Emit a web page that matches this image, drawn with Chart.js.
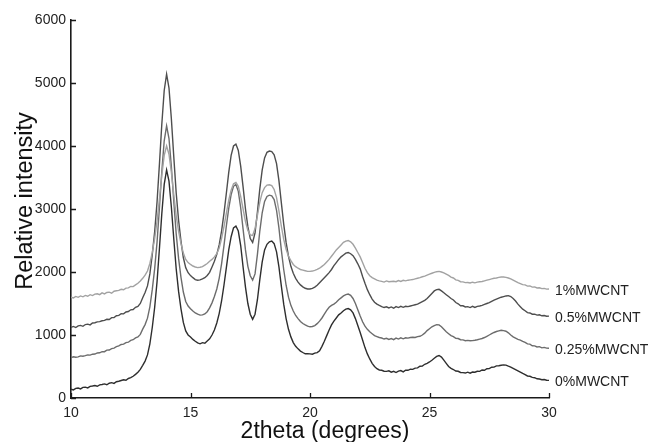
<!DOCTYPE html>
<html>
<head>
<meta charset="utf-8">
<script src="https://cdn.jsdelivr.net/npm/chart.js@4.4.1/dist/chart.umd.min.js"></script>
<style>
  html, body { margin: 0; padding: 0; background: #fff; }
  #wrap { width: 656px; height: 442px; }
</style>
</head>
<body>
<div id="wrap"><canvas id="xrdChart" width="656" height="442"></canvas></div>
<script>
// scan grid 10.0 .. 30.0 deg, 0.1 deg step
const twoTheta = [];
for (let i = 0; i <= 200; i++) twoTheta.push(+(10 + i * 0.1).toFixed(1));

const seriesNames = ['1%MWCNT', '0.5%MWCNT', '0.25%MWCNT', '0%MWCNT'];
const seriesColors = ['#a2a2a2', '#4e4e4e', '#6c6c6c', '#2e2e2e'];
const xTicks = [10, 15, 20, 25, 30];
const yTicks = [0, 1000, 2000, 3000, 4000, 5000, 6000];

const mw1 = [
  1600, 1588, 1612, 1598, 1620, 1606, 1628, 1615, 1640, 1626,
  1648, 1655, 1640, 1668, 1652, 1675, 1680, 1664, 1695, 1702,
  1708, 1726, 1718, 1745, 1748, 1770, 1768, 1795, 1822, 1858,
  1900, 1950, 2015, 2135, 2310, 2530, 2805, 3160, 3535, 3850,
  4000, 3870, 3580, 3230, 2900, 2650, 2455, 2300, 2200, 2150,
  2120, 2095, 2080, 2070, 2075, 2085, 2110, 2135, 2170, 2200,
  2240, 2290, 2380, 2530, 2720, 2930, 3140, 3300, 3400, 3420,
  3360, 3200, 3000, 2800, 2660, 2590, 2580, 2690, 2900, 3110,
  3260, 3340, 3380, 3385, 3370, 3310, 3180, 2970, 2730, 2520,
  2360, 2250, 2180, 2120, 2085, 2060, 2040, 2030, 2020, 2010,
  2010, 2015, 2025, 2040, 2060, 2090, 2120, 2160, 2200, 2250,
  2300, 2350, 2390, 2430, 2470, 2490, 2500, 2480, 2440, 2380,
  2310, 2240, 2150, 2060, 1990, 1940, 1910, 1890, 1870, 1860,
  1852, 1840, 1858, 1846, 1850, 1852, 1846, 1864, 1850, 1868,
  1860, 1870, 1875, 1880, 1890, 1900, 1910, 1925, 1935, 1950,
  1965, 1980, 1995, 2005, 2010, 2000, 1985, 1965, 1945, 1920,
  1905, 1876, 1868, 1846, 1844, 1832, 1834, 1826, 1838, 1828,
  1840, 1845, 1850, 1860, 1870, 1880, 1890, 1900, 1905, 1915,
  1920, 1920, 1915, 1905, 1890, 1870, 1850, 1830, 1815, 1800,
  1795, 1776, 1780, 1760, 1764, 1746, 1750, 1736, 1740, 1728,
  1730
];

const mw05 = [
  1120, 1136, 1118, 1145, 1152, 1138, 1166, 1172, 1160, 1190,
  1194, 1208, 1212, 1226, 1232, 1250, 1246, 1275, 1278, 1305,
  1312, 1338, 1335, 1366, 1372, 1400, 1405, 1440, 1455, 1500,
  1590, 1674, 1779, 1970, 2274, 2636, 3111, 3712, 4348, 4881,
  5140, 4921, 4428, 3832, 3261, 2826, 2494, 2230, 2069, 1989,
  1943, 1910, 1880, 1870, 1875, 1890, 1910, 1945, 1995, 2080,
  2170, 2280, 2430, 2650, 2930, 3250, 3580, 3850, 4000, 4030,
  3930, 3680, 3350, 3000, 2720, 2530, 2470, 2620, 2950, 3320,
  3620, 3810, 3900, 3920, 3910, 3860, 3720, 3450, 3100, 2760,
  2470, 2250, 2090, 1980, 1900, 1840, 1795, 1765, 1742, 1730,
  1730, 1740, 1760, 1790, 1830, 1870, 1910, 1950, 1990, 2040,
  2100, 2150, 2200, 2240, 2270, 2300, 2310, 2290, 2260, 2200,
  2130, 2050, 1930, 1820, 1720, 1640, 1570, 1520, 1490, 1470,
  1452, 1436, 1448, 1430, 1445, 1425, 1450, 1436, 1455, 1440,
  1455, 1450, 1460, 1470, 1480, 1490, 1510, 1530, 1550, 1580,
  1620, 1660, 1700, 1720, 1725, 1700, 1670, 1640, 1610, 1580,
  1555, 1515, 1495, 1465, 1464, 1445, 1450, 1436, 1455, 1438,
  1455, 1460, 1470, 1485, 1500, 1515, 1535, 1555, 1570, 1585,
  1600, 1610, 1620, 1625, 1610, 1580, 1540, 1490, 1450, 1410,
  1385, 1356, 1350, 1330, 1330, 1315, 1320, 1305, 1310, 1298,
  1300
];

const mw025 = [
  640, 655, 648, 652, 668, 664, 672, 684, 680, 695,
  698, 715, 718, 736, 735, 760, 762, 785, 792, 815,
  826, 850, 855, 880, 886, 915, 925, 955, 970, 1010,
  1093, 1165, 1267, 1447, 1720, 2050, 2473, 3020, 3598, 4083,
  4320, 4118, 3668, 3125, 2613, 2220, 1920, 1682, 1532, 1460,
  1418, 1380, 1350, 1330, 1315, 1320, 1335, 1370, 1430, 1510,
  1610, 1730, 1900, 2130, 2420, 2730, 3010, 3230, 3360, 3390,
  3280, 3020, 2680, 2350, 2090, 1940, 1870, 1970, 2280, 2650,
  2940, 3120, 3200, 3220, 3210, 3150, 2980, 2700, 2350, 2040,
  1790, 1600, 1470, 1380, 1310, 1260, 1215, 1182, 1160, 1140,
  1130, 1135, 1150, 1180, 1220, 1270, 1330, 1390, 1440, 1470,
  1490, 1520, 1560, 1590, 1620, 1640, 1650, 1630, 1580, 1500,
  1400, 1300, 1210, 1140, 1090, 1050, 1020, 990, 975, 960,
  952, 936, 948, 930, 944, 926, 950, 935, 955, 940,
  955, 950, 960, 965, 960, 975, 980, 1000, 1030, 1070,
  1100, 1130, 1150, 1165, 1160, 1130, 1090, 1050, 1020, 990,
  975, 946, 944, 925, 922, 910, 914, 908, 910, 916,
  925, 935, 945, 960, 980, 1000, 1020, 1040, 1055, 1065,
  1075, 1070, 1060, 1035, 1000, 970, 950, 930, 920, 900,
  884, 860, 855, 830, 828, 810, 815, 796, 804, 792,
  790
];

const mw0 = [
  140, 128, 152, 158, 145, 168, 172, 160, 184, 190,
  198, 186, 208, 215, 224, 210, 234, 244, 232, 258,
  266, 278, 290, 282, 310, 322, 345, 375, 410, 455,
  518, 586, 684, 860, 1119, 1436, 1846, 2372, 2928, 3391,
  3620, 3441, 3028, 2527, 2056, 1696, 1419, 1200, 1064, 1001,
  968, 930, 900, 875, 860, 878, 870, 905, 940, 1000,
  1080, 1190, 1340, 1540, 1790, 2070, 2350, 2560, 2700, 2730,
  2650, 2420, 2080, 1760, 1500, 1330, 1250, 1330, 1560, 1880,
  2160, 2350, 2440, 2480, 2490, 2450, 2320, 2080, 1780, 1490,
  1260, 1090, 970, 880, 820, 780, 745, 722, 702, 705,
  700, 695, 712, 720, 750, 820, 900, 990, 1080, 1160,
  1220, 1270, 1320, 1350, 1385, 1410, 1420, 1400, 1350, 1260,
  1150, 1040, 920, 800, 700, 620, 550, 500, 465, 445,
  440, 425, 422, 432, 410, 424, 404, 428, 436, 415,
  442, 440, 458, 455, 475, 478, 505, 508, 535, 550,
  572, 600, 632, 660, 675, 650, 600, 550, 500, 470,
  452, 428, 424, 405, 402, 396, 410, 394, 412, 410,
  424, 422, 445, 440, 465, 466, 488, 490, 510, 512,
  520, 525, 522, 505, 490, 470, 450, 430, 410, 390,
  372, 350, 345, 328, 322, 305, 302, 290, 294, 282,
  280
];

const FONT = '"Liberation Sans", Arial, sans-serif';
const INK = '#1a1a1a';

// inward ticks, curve labels at the right end, axis titles
const decorPlugin = {
  id: 'decor',
  afterDraw(chart) {
    const ctx = chart.ctx;
    const xs = chart.scales.x, ys = chart.scales.y;
    const area = chart.chartArea;
    ctx.save();
    ctx.strokeStyle = INK;
    ctx.lineWidth = 1.3;
    ctx.beginPath();
    xTicks.forEach(v => {
      const px = Math.round(xs.getPixelForValue(v)) + 0.5;
      ctx.moveTo(px, area.bottom);
      ctx.lineTo(px, area.bottom - 5);
    });
    yTicks.forEach(v => {
      const py = Math.round(ys.getPixelForValue(v)) + 0.5;
      ctx.moveTo(area.left, py);
      ctx.lineTo(area.left + 5, py);
    });
    ctx.stroke();

    ctx.fillStyle = '#222';
    ctx.font = '14px ' + FONT;
    ctx.textAlign = 'left';
    ctx.textBaseline = 'middle';
    chart.data.datasets.forEach(ds => {
      const last = ds.data[ds.data.length - 1];
      ctx.fillText(ds.label, xs.getPixelForValue(30) + 6, ys.getPixelForValue(last) + 2);
    });

    ctx.fillStyle = '#111';
    ctx.font = '23px ' + FONT;
    ctx.textAlign = 'center';
    ctx.textBaseline = 'alphabetic';
    ctx.fillText('2theta (degrees)', 325, 438);

    ctx.translate(31.5, 201);
    ctx.rotate(-Math.PI / 2);
    ctx.font = '23.5px ' + FONT;
    ctx.fillText('Relative intensity', 0, 0);
    ctx.restore();
  }
};

const series = [mw1, mw05, mw025, mw0];

new Chart(document.getElementById('xrdChart'), {
  type: 'line',
  data: {
    labels: twoTheta,
    datasets: series.map((vals, i) => ({
      label: seriesNames[i],
      data: vals,
      borderColor: seriesColors[i],
      borderWidth: 1.4,
      pointRadius: 0,
      tension: 0,
      fill: false
    }))
  },
  options: {
    responsive: false,
    animation: false,
    devicePixelRatio: 1,
    layout: { padding: { left: 0, right: 107, top: 20, bottom: 0 } },
    plugins: { legend: { display: false }, tooltip: { enabled: false } },
    scales: {
      x: {
        type: 'linear',
        min: 10,
        max: 30,
        afterBuildTicks: s => { s.ticks = xTicks.map(v => ({ value: v })); },
        afterFit: s => { s.height = 44; },
        grid: { drawOnChartArea: false, drawTicks: false },
        border: { color: INK, width: 1.6 },
        ticks: { color: '#222', font: { family: FONT, size: 14 }, padding: 7, maxRotation: 0, autoSkip: false,
                 callback: v => String(v) }
      },
      y: {
        min: 0,
        max: 6000,
        afterBuildTicks: s => { s.ticks = yTicks.map(v => ({ value: v })); },
        afterFit: s => { s.width = 71; },
        grid: { drawOnChartArea: false, drawTicks: false },
        border: { color: INK, width: 1.6 },
        ticks: { color: '#222', font: { family: FONT, size: 14 }, padding: 5, callback: v => String(v) }
      }
    }
  },
  plugins: [decorPlugin]
});
</script>
</body>
</html>
